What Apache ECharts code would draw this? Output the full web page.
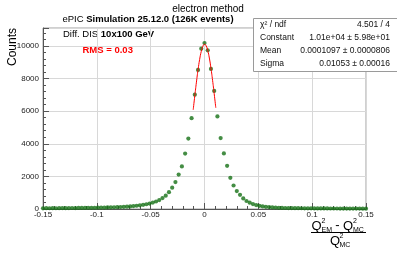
<!DOCTYPE html>
<html><head><meta charset="utf-8">
<script src="https://cdn.jsdelivr.net/npm/echarts@6/dist/echarts.min.js"></script>
<style>html,body{margin:0;padding:0;background:#fff}#c{width:397px;height:255px}</style>
</head><body><div id="c"></div>
<script>
// Histogram definition (bin centres start at binMin, spaced binWidth)
const binMin = -0.15;
const binWidth = 0.003;
// Counts per bin (101 bins, -0.15 ... 0.15)
const counts = [
  42, 48, 45, 50, 47, 52, 55, 50, 58, 60,
  57, 63, 66, 64, 70, 74, 78, 82, 85, 90,
  96, 102, 108, 115, 124, 132, 145, 160, 178, 200,
  225, 255, 290, 335, 395, 460, 545, 670, 820, 1030,
  1310, 1650, 2110, 2610, 3400, 4320, 5570, 7010, 8530, 9830,
  10180,
  9730, 8590, 7240, 5680, 4350, 3410, 2650, 1910, 1440, 1100,
  870, 650, 490, 385, 300, 240, 195, 160, 135, 115,
  98, 85, 75, 68, 62, 58, 55, 50, 48, 45,
  44, 40, 42, 38, 36, 37, 34, 33, 31, 32,
  30, 28, 29, 26, 27, 25, 24, 25, 22, 21
];
// Gaussian fit curve, sampled points
const fitX = [-0.0105, -0.009, -0.0075, -0.006, -0.0045, -0.003, -0.0015, 0, 0.0015, 0.003, 0.0045, 0.006, 0.0075, 0.009, 0.0105];
const fitY = [6080, 6947, 7779, 8536, 9177, 9669, 9983, 10099, 10012, 9726, 9259, 8637, 7895, 7072, 6207];
// Axis
const xMin = -0.15, xMax = 0.15, xStep = 0.05;
const yMin = 0, yMax = 11100, yStep = 2000, yMinorStep = 400;
// Texts
const titleText = 'electron method';
const statsNames = ['χ² / ndf', 'Constant', 'Mean', 'Sigma'];
const statsValues = ['4.501 / 4', '1.01e+04 ± 5.98e+01', '0.0001097 ± 0.0000806', '0.01053 ± 0.00016'];

const FONT = '"Liberation Sans", Arial, Helvetica, sans-serif';
const green = '#157015';

const scatterData = counts.map((c, i) => [+(binMin + i * binWidth).toFixed(4), c]);
const fitData = fitX.map((x, i) => [x, fitY[i]]);

const chart = echarts.init(document.getElementById('c'), null, {renderer: 'canvas'});

function fmtX(v) {
  const r = Math.round(v * 100) / 100;
  if (Math.abs(r) < 1e-9) return '0';
  return String(r);
}

const statsGraphics = [];
statsGraphics.push({type: 'rect', shape: {x: 253.5, y: 18.5, width: 150, height: 53}, style: {fill: '#fff', stroke: '#9a9a9a', lineWidth: 1}, z: 100});
const rowY = [24.5, 37.5, 50.5, 63.5];
statsNames.forEach((n, i) => {
  statsGraphics.push({type: 'text', x: 260, y: rowY[i], z: 101, style: {text: n, font: '8.5px ' + FONT, fill: '#111', align: 'left', verticalAlign: 'middle'}});
  statsGraphics.push({type: 'text', x: 390, y: rowY[i], z: 101, style: {text: statsValues[i], font: '8.5px ' + FONT, fill: '#111', align: 'right', verticalAlign: 'middle'}});
});

const supFont = '7px ' + FONT;
const qFont = '13px ' + FONT;
const frac = [
  // numerator
  {type: 'text', x: 311.5, y: 226, style: {text: 'Q', font: qFont, fill: '#000', align: 'left', verticalAlign: 'middle'}},
  {type: 'text', x: 321.5, y: 221, style: {text: '2', font: supFont, fill: '#000', align: 'left', verticalAlign: 'middle'}},
  {type: 'text', x: 321.5, y: 230, style: {text: 'EM', font: supFont, fill: '#000', align: 'left', verticalAlign: 'middle'}},
  {type: 'text', x: 337.5, y: 225.5, style: {text: '-', font: qFont, fill: '#000', align: 'center', verticalAlign: 'middle'}},
  {type: 'text', x: 343, y: 226, style: {text: 'Q', font: qFont, fill: '#000', align: 'left', verticalAlign: 'middle'}},
  {type: 'text', x: 353, y: 221, style: {text: '2', font: supFont, fill: '#000', align: 'left', verticalAlign: 'middle'}},
  {type: 'text', x: 353, y: 230, style: {text: 'MC', font: supFont, fill: '#000', align: 'left', verticalAlign: 'middle'}},
  {type: 'line', shape: {x1: 311, y1: 232.5, x2: 366, y2: 232.5}, style: {stroke: '#000', lineWidth: 1}},
  // denominator
  {type: 'text', x: 330, y: 241, style: {text: 'Q', font: qFont, fill: '#000', align: 'left', verticalAlign: 'middle'}},
  {type: 'text', x: 339.5, y: 236, style: {text: '2', font: supFont, fill: '#000', align: 'left', verticalAlign: 'middle'}},
  {type: 'text', x: 339.5, y: 245, style: {text: 'MC', font: supFont, fill: '#000', align: 'left', verticalAlign: 'middle'}}
];

const option = {
  animation: false,
  backgroundColor: '#fff',
  grid: {left: 43, right: 31, top: 28, bottom: 46, show: true, borderColor: '#a0a0a0', borderWidth: 1, backgroundColor: 'transparent'},
  xAxis: {
    type: 'value', min: xMin, max: xMax, interval: xStep,
    axisLine: {show: true, onZero: false, lineStyle: {color: '#555', width: 1}},
    axisTick: {show: true, inside: true, length: 6, lineStyle: {color: '#555'}},
    minorTick: {show: true, splitNumber: 5, length: 3, lineStyle: {color: '#555'}},
    splitLine: {show: true, lineStyle: {color: '#d8d8d8', width: 1}},
    axisLabel: {formatter: fmtX, margin: 2, fontSize: 8, fontFamily: FONT, color: '#222', showMinLabel: true, showMaxLabel: true}
  },
  yAxis: [{
    type: 'value', min: yMin, max: yMax, interval: yStep, position: 'left',
    axisLine: {show: true, onZero: false, lineStyle: {color: '#555', width: 1}},
    axisTick: {show: true, inside: true, length: 6, lineStyle: {color: '#555'}},
    splitLine: {show: true, lineStyle: {color: '#d8d8d8', width: 1}},
    axisLabel: {formatter: v => (v % yStep === 0 ? String(v) : ''), margin: 4, fontSize: 8, fontFamily: FONT, color: '#222'}
  }, {
    type: 'value', min: yMin, max: yMax, interval: yMinorStep, position: 'left', offset: 0,
    axisLine: {show: false, onZero: false},
    axisTick: {show: true, inside: true, length: 3, lineStyle: {color: '#555'}},
    splitLine: {show: false},
    axisLabel: {show: false}
  }],
  series: [{
    type: 'scatter', data: scatterData, symbol: 'circle', symbolSize: 4.2,
    itemStyle: {color: green}, z: 3
  }, {
    type: 'line', data: fitData, smooth: true, showSymbol: false, symbol: 'none',
    lineStyle: {color: '#ff0000', width: 1}, z: 4
  }],
  graphic: [
    {type: 'text', x: 208, y: 9, style: {text: titleText, font: '10px ' + FONT, fill: '#000', align: 'center', verticalAlign: 'middle'}},
    {type: 'text', x: 62.5, y: 19.5, style: {
      text: '{n|ePIC }{b|Simulation 25.12.0 (126K events)}', font: '9.5px ' + FONT, fill: '#000', align: 'left', verticalAlign: 'middle',
      rich: {n: {fontSize: 9.5, fontFamily: FONT, fill: '#000'}, b: {fontSize: 9.5, fontFamily: FONT, fontWeight: 'bold', fill: '#000'}}}},
    {type: 'text', x: 63, y: 34, style: {
      text: '{n|Diff. DIS }{b|10x100 GeV}', font: '9.5px ' + FONT, fill: '#000', align: 'left', verticalAlign: 'middle',
      rich: {n: {fontSize: 9.5, fontFamily: FONT, fill: '#000'}, b: {fontSize: 9.5, fontFamily: FONT, fontWeight: 'bold', fill: '#000'}}}},
    {type: 'text', x: 82.5, y: 50, style: {text: 'RMS = 0.03', font: 'bold 9.5px ' + FONT, fill: '#ff0000', align: 'left', verticalAlign: 'middle'}},
    {type: 'text', x: 12.5, y: 28, rotation: Math.PI / 2, style: {text: 'Counts', font: '12px ' + FONT, fill: '#000', align: 'right', verticalAlign: 'middle'}},
    ...statsGraphics,
    ...frac
  ]
};
chart.setOption(option);
</script>
</body></html>
